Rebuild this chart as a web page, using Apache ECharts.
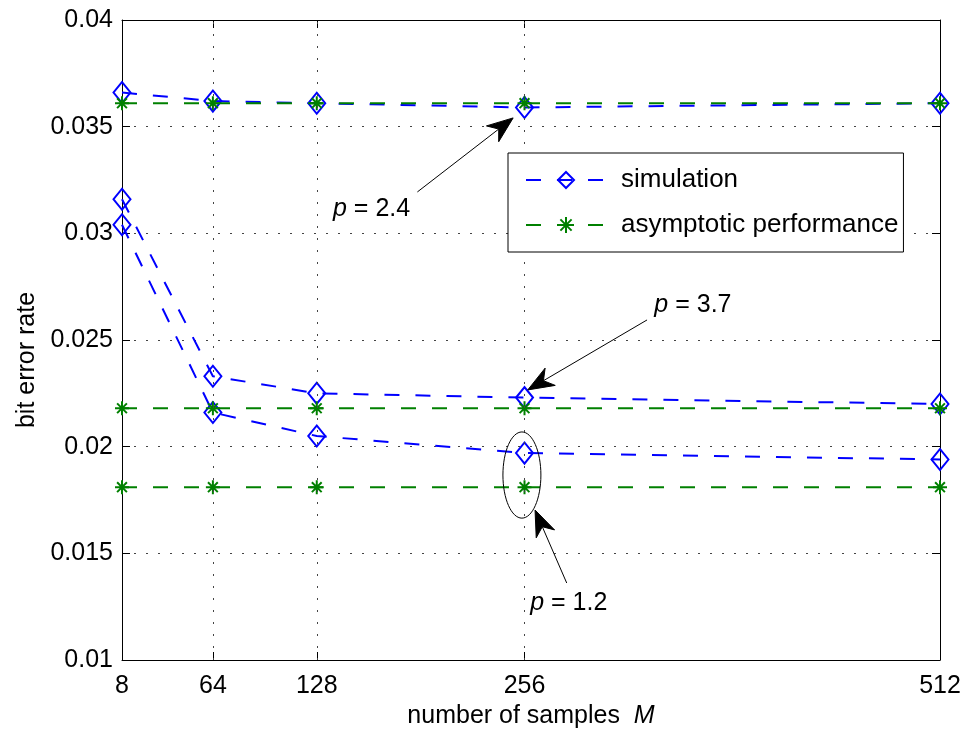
<!DOCTYPE html>
<html><head><meta charset="utf-8">
<script src="https://cdn.jsdelivr.net/npm/echarts@6/dist/echarts.min.js"></script>
<style>html,body{margin:0;padding:0;background:#fff}#c{width:969px;height:734px}</style>
</head><body><div id="c"></div>
<script>
// ---- data ----
const xTicks = [8, 64, 128, 256, 512];
const simP24 = [0.0366, 0.0362, 0.0361, 0.0359, 0.0361];
const simP37 = [0.0316, 0.0233, 0.0225, 0.0223, 0.0220];
const simP12 = [0.0304, 0.0216, 0.0205, 0.0197, 0.0194];
const asymP24 = [0.0361, 0.0361, 0.0361, 0.0361, 0.0361];
const asymP37 = [0.0218, 0.0218, 0.0218, 0.0218, 0.0218];
const asymP12 = [0.0181, 0.0181, 0.0181, 0.0181, 0.0181];
const yMin = 0.01, yMax = 0.04, yStep = 0.005;
const legendNames = ['simulation', 'asymptotic performance'];
// annotations (data coordinates)
const annoArrows = [
  { from: [190, 0.03194], to: [249, 0.03541] },
  { from: [331.5, 0.02594], to: [258, 0.02266] },
  { from: [282, 0.01361], to: [262.5, 0.01703] }
];
const annoLabels = [
  { at: [138, 0.03114], val: '2.4' },
  { at: [336, 0.02664], val: '3.7' },
  { at: [259.5, 0.01267], val: '1.2' }
];
const annoEllipse = { center: [254.4, 0.01867], rx: 11.7, ry: 0.00202 };

// ---- chart ----
const FONT = '"Liberation Sans", Arial, Helvetica, sans-serif';
const FS = 25;
const chart = echarts.init(document.getElementById('c'), null, { renderer: 'canvas' });
const pairs = ys => xTicks.map((x, i) => [x, ys[i]]);
const STAR = 'path://M10,0L10,20M0,10L20,10M3,3L17,17M3,17L17,3';

function simSeries(ys) {
  return {
    name: legendNames[0], type: 'line', data: pairs(ys), clip: false,
    symbol: 'diamond', symbolSize: [17, 21],
    lineStyle: { color: '#0000ff', width: 2, type: [15, 16] },
    itemStyle: { color: 'rgba(255,255,255,0)', borderColor: '#0000ff', borderWidth: 2 },
    z: 3
  };
}
function asymSeries(ys) {
  return {
    name: legendNames[1], type: 'line', data: pairs(ys), clip: false,
    symbol: STAR, symbolSize: 14,
    lineStyle: { color: '#008000', width: 2, type: [15, 16] },
    itemStyle: { color: '#008000', borderColor: '#008000', borderWidth: 2 },
    z: 4
  };
}

const gridLineStyle = { color: '#444', width: 1, type: [2, 10] };
const axisBase = {
  axisLine: { show: true, onZero: false, lineStyle: { color: '#000', width: 1 } },
  axisTick: { show: true, inside: true, length: 8, lineStyle: { color: '#000', width: 1 } }
};

chart.setOption({
  animation: false,
  backgroundColor: '#fff',
  grid: { left: 122, top: 20, width: 818, height: 640, containLabel: false },
  legend: {
    data: legendNames, orient: 'vertical', left: 508, top: 153,
    itemWidth: 80, itemHeight: 20, itemGap: 19,
    padding: [14, 5, 14, 17],
    borderColor: '#000', borderWidth: 1, borderRadius: 0, backgroundColor: '#fff',
    selectedMode: false, z: 10,
    formatter: n => '{s|}' + n,
    textStyle: { fontSize: 26, fontFamily: FONT, color: '#000', lineHeight: 25,
      rich: { s: { width: 10 } } }
  },
  xAxis: [
    Object.assign({}, axisBase, {
      type: 'value', min: xTicks[0], max: xTicks[xTicks.length - 1], position: 'bottom',
      axisTick: Object.assign({}, axisBase.axisTick, { customValues: xTicks }),
      axisLabel: { customValues: xTicks, fontSize: FS, fontFamily: FONT, color: '#000', margin: 14 },
      splitLine: { show: false },
      name: 'number of samples  {i|M}', nameLocation: 'middle', nameGap: 40,
      nameTextStyle: { fontSize: FS, fontFamily: FONT, color: '#000',
        rich: { i: { fontStyle: 'italic', fontSize: FS, fontFamily: FONT, color: '#000' } } }
    }),
    Object.assign({}, axisBase, {
      type: 'value', min: xTicks[0], max: xTicks[xTicks.length - 1], position: 'top',
      axisTick: Object.assign({}, axisBase.axisTick, { customValues: xTicks }),
      axisLabel: { show: false }, splitLine: { show: false }
    })
  ],
  yAxis: [
    Object.assign({}, axisBase, {
      type: 'value', min: yMin, max: yMax, interval: yStep, position: 'left',
      axisLabel: { fontSize: FS, fontFamily: FONT, color: '#000', margin: 9,
        formatter: v => String(+v.toFixed(3)) },
      splitLine: { show: true, lineStyle: gridLineStyle },
      name: 'bit error rate', nameLocation: 'middle', nameGap: 78,
      nameTextStyle: { fontSize: FS, fontFamily: FONT, color: '#000', padding: [0, 40, 0, 0] }
    }),
    Object.assign({}, axisBase, {
      type: 'value', min: yMin, max: yMax, interval: yStep, position: 'right',
      axisLabel: { show: false }, splitLine: { show: false }
    })
  ],
  series: [
    {
      name: 'gridx', type: 'line', data: [], z: 1, silent: true,
      markLine: {
        silent: true, symbol: 'none', animation: false,
        label: { show: false },
        lineStyle: gridLineStyle,
        data: xTicks.slice(1, -1).map(v => ({ xAxis: v }))
      }
    },
    simSeries(simP24), simSeries(simP37), simSeries(simP12),
    asymSeries(asymP24), asymSeries(asymP37), asymSeries(asymP12)
  ]
});

// ---- annotations ----
function px(p) { return chart.convertToPixel({ gridIndex: 0 }, p); }
const graphics = [];
annoArrows.forEach(a => {
  const A = px(a.from), B = px(a.to);
  const dx = A[0] - B[0], dy = A[1] - B[1];
  const len = Math.hypot(dx, dy), ux = dx / len, uy = dy / len;
  const nx = -uy, ny = ux;
  const L = 26, W = 10, N = 0.7 * L;
  graphics.push({ type: 'line', z: 100, shape: { x1: A[0], y1: A[1], x2: B[0] + ux * N, y2: B[1] + uy * N },
    style: { stroke: '#000', lineWidth: 1 } });
  graphics.push({ type: 'polygon', z: 100, shape: { points: [
      [B[0], B[1]],
      [B[0] + ux * L + nx * W, B[1] + uy * L + ny * W],
      [B[0] + ux * N, B[1] + uy * N],
      [B[0] + ux * L - nx * W, B[1] + uy * L - ny * W]
    ] }, style: { fill: '#000', stroke: '#000', lineWidth: 1 } });
});
annoLabels.forEach(l => {
  const P = px(l.at);
  graphics.push({ type: 'text', z: 100, x: P[0], y: P[1],
    style: { text: '{i|p} = ' + l.val, fill: '#000', fontSize: FS, fontFamily: FONT,
      align: 'left', verticalAlign: 'middle', textAlign: 'left', textVerticalAlign: 'middle',
      rich: { i: { fontStyle: 'italic', fontSize: FS, fontFamily: FONT, fill: '#000' } } } });
});
{
  const C = px(annoEllipse.center);
  const R = px([annoEllipse.center[0] + annoEllipse.rx, annoEllipse.center[1] + annoEllipse.ry]);
  graphics.push({ type: 'ellipse', z: 100,
    shape: { cx: C[0], cy: C[1], rx: Math.abs(R[0] - C[0]), ry: Math.abs(R[1] - C[1]) },
    style: { fill: 'none', stroke: '#000', lineWidth: 1 } });
}
chart.setOption({ graphic: graphics });
</script>
</body></html>
